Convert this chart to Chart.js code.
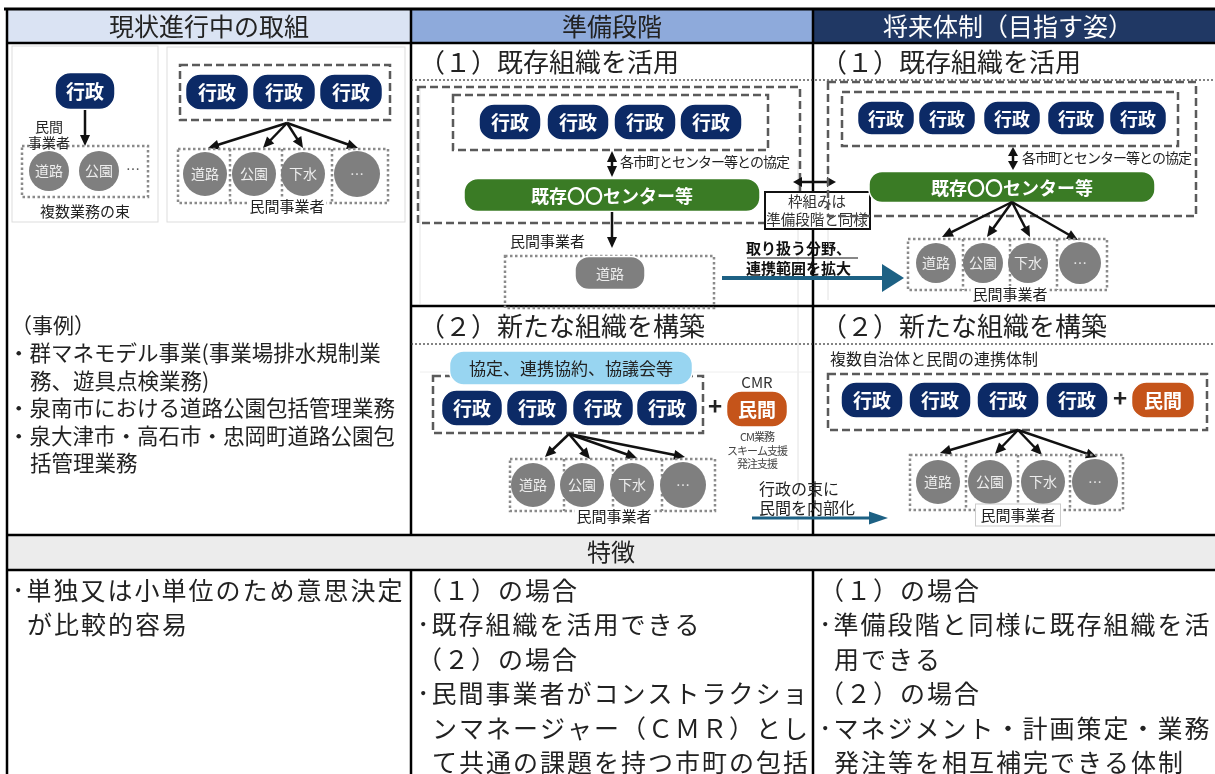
<!DOCTYPE html>
<html>
<head>
<meta charset="utf-8">
<script src="https://cdn.jsdelivr.net/npm/chart.js@4.4.1/dist/chart.umd.min.js"></script>
<style>
  html, body { margin: 0; padding: 0; background: #fff; }
  #wrap { width: 1215px; height: 774px; }
</style>
</head>
<body>
<div id="wrap"><canvas id="diagram"></canvas></div>
<script>
// ---- texts of the table / diagram ----
var headers = ['現状進行中の取組', '準備段階', '将来体制（目指す姿）'];
var subTitles = ['（１）既存組織を活用', '（２）新たな組織を構築'];
var govLabel = '行政';
var privLabel = '民間';
var serviceLabels = ['道路', '公園', '下水', '…'];
var bizLabel = '民間事業者';
var bizLabelShort = ['民間', '事業者'];
var bundleLabel = '複数業務の束';
var centerLabel = '既存〇〇センター等';
var agreementLabel = '各市町とセンター等との協定';
var councilLabel = '協定、連携協約、協議会等';
var cmrLabel = 'CMR';
var cmrRoles = ['CM業務', 'スキーム支援', '発注支援'];
var jointLabel = '複数自治体と民間の連携体制';
var frameNote = ['枠組みは', '準備段階と同様'];
var expandNote = ['取り扱う分野、', '連携範囲を拡大'];
var internalNote = ['行政の束に', '民間を内部化'];
var caseTitle = '（事例）';
var caseItems = [
  ['・群マネモデル事業(事業場排水規制業', '務、遊具点検業務)'],
  ['・泉南市における道路公園包括管理業務'],
  ['・泉大津市・高石市・忠岡町道路公園包', '括管理業務']
];
var featureTitle = '特徴';
var featureItems = [
  [['･単独又は小単位のため意思決定', 'が比較的容易']],
  [['（１）の場合'], ['･既存組織を活用できる'], ['（２）の場合'],
   ['･民間事業者がコンストラクショ', 'ンマネージャー（ＣＭＲ）とし', 'て共通の課題を持つ市町の包括']],
  [['（１）の場合'], ['･準備段階と同様に既存組織を活', '用できる'], ['（２）の場合'],
   ['･マネジメント・計画策定・業務', '発注等を相互補完できる体制']]
];

var FONT = '"Noto Sans CJK JP", "Noto Sans", sans-serif';
var NAVY = '#0c2a66', GRAY = '#7f7f7f', GREEN = '#3a7b25', ORANGE = '#c5541a';
var TEAL = '#1d6184', SKY = '#98d5f1';

function drawDiagram(chart) {
  var ctx = chart.ctx, xs = chart.scales.x, ys = chart.scales.y;
  function X(v) { return xs.getPixelForValue(v); }
  function Y(v) { return ys.getPixelForValue(v); }

  function fillRect(x0, y0, x1, y1, c) {
    ctx.fillStyle = c;
    ctx.fillRect(X(x0), Y(y0), X(x1) - X(x0), Y(y1) - Y(y0));
  }
  function line(x0, y0, x1, y1, w, c, dash) {
    ctx.save();
    ctx.strokeStyle = c; ctx.lineWidth = w;
    ctx.setLineDash(dash || []);
    ctx.beginPath(); ctx.moveTo(X(x0), Y(y0)); ctx.lineTo(X(x1), Y(y1)); ctx.stroke();
    ctx.restore();
  }
  function frame(x0, y0, x1, y1, w, c, dash, fill) {
    ctx.save();
    if (fill) { ctx.fillStyle = fill; ctx.fillRect(X(x0), Y(y0), X(x1) - X(x0), Y(y1) - Y(y0)); }
    ctx.strokeStyle = c; ctx.lineWidth = w; ctx.setLineDash(dash || []);
    ctx.strokeRect(X(x0), Y(y0), X(x1) - X(x0), Y(y1) - Y(y0));
    ctx.restore();
  }
  function dashed(x0, y0, x1, y1) { frame(x0, y0, x1, y1, 2.5, '#5a5a5a', [8, 4]); }
  function dotted(x0, y0, x1, y1) { frame(x0, y0, x1, y1, 2.5, '#8a8a8a', [2.5, 2.5]); }
  function text(s, x, y, size, c, align, weight, spacing) {
    ctx.save();
    ctx.font = (weight || 'normal') + ' ' + size + 'px ' + FONT;
    ctx.fillStyle = c || '#222';
    ctx.textAlign = align || 'left';
    ctx.textBaseline = 'middle';
    if (spacing !== undefined) ctx.letterSpacing = spacing + 'px';
    ctx.fillText(s, X(x), Y(y));
    ctx.restore();
  }
  function rrect(x0, y0, x1, y1, r) {
    var a = X(x0), b = Y(y0), c = X(x1), d = Y(y1);
    ctx.beginPath();
    ctx.moveTo(a + r, b); ctx.lineTo(c - r, b); ctx.arcTo(c, b, c, b + r, r);
    ctx.lineTo(c, d - r); ctx.arcTo(c, d, c - r, d, r);
    ctx.lineTo(a + r, d); ctx.arcTo(a, d, a, d - r, r);
    ctx.lineTo(a, b + r); ctx.arcTo(a, b, a + r, b, r);
    ctx.closePath();
  }
  function pill(cx, cy, w, h, fill, label, size, tc, weight) {
    ctx.save();
    rrect(cx - w / 2, cy - h / 2, cx + w / 2, cy + h / 2, h * 0.42);
    ctx.fillStyle = fill; ctx.fill();
    ctx.strokeStyle = '#ffffff'; ctx.lineWidth = 1.5; ctx.stroke();
    ctx.restore();
    text(label, cx, cy + 1, size, tc || '#fff', 'center', weight || 'bold');
  }
  function circle(cx, cy, r, label) {
    ctx.save();
    ctx.beginPath(); ctx.arc(X(cx), Y(cy), r, 0, Math.PI * 2);
    ctx.fillStyle = GRAY; ctx.fill();
    ctx.restore();
    text(label, cx, cy, 14, '#eeeeee', 'center');
  }
  function head(x0, y0, x1, y1, len, wid, c) {
    var ang = Math.atan2(Y(y1) - Y(y0), X(x1) - X(x0));
    ctx.save();
    ctx.translate(X(x1), Y(y1)); ctx.rotate(ang);
    ctx.beginPath(); ctx.moveTo(0, 0); ctx.lineTo(-len, -wid / 2); ctx.lineTo(-len, wid / 2); ctx.closePath();
    ctx.fillStyle = c; ctx.fill();
    ctx.restore();
  }
  function arrow(x0, y0, x1, y1, both, w, c, len, wid) {
    w = w || 2.5; c = c || '#111'; len = len || 11; wid = wid || 10;
    var dx = x1 - x0, dy = y1 - y0, d = Math.sqrt(dx * dx + dy * dy);
    var ux = dx / d, uy = dy / d;
    var sx = both ? x0 + ux * (len - 2) : x0, sy = both ? y0 + uy * (len - 2) : y0;
    line(sx, sy, x1 - ux * (len - 2), y1 - uy * (len - 2), w, c);
    head(x0, y0, x1, y1, len, wid, c);
    if (both) head(x1, y1, x0, y0, len, wid, c);
  }
  function serviceRow(x0, x1, y0, y1, seps, centers, r, cy, labelX, labelY, boxed) {
    dotted(x0, y0, x1, y1);
    seps.forEach(function (s) { line(s, y0, s, y1, 2.5, '#8a8a8a', [2.5, 2.5]); });
    centers.forEach(function (c, i) { circle(c, cy, i === 3 ? r + 1 : r, serviceLabels[i]); });
    ctx.save();
    ctx.font = '15px ' + FONT;
    var tw = ctx.measureText(bizLabel).width;
    ctx.restore();
    if (boxed) frame(labelX - tw / 2 - 5, labelY - 11, labelX + tw / 2 + 5, labelY + 11, 1, '#cccccc', [], '#fff');
    else fillRect(labelX - tw / 2 - 2, labelY - 8, labelX + tw / 2 + 2, labelY + 6, '#fff');
    text(bizLabel, labelX, labelY, 15, '#222', 'center');
  }

  // ---- table background ----
  fillRect(7, 9, 411, 43, '#dae3f3');
  fillRect(411, 9, 813, 43, '#8eaadb');
  fillRect(813, 9, 1215, 43, '#203864');
  fillRect(7, 535, 1215, 570, '#ececec');

  // image panel edges (faint)
  frame(12, 46, 158, 222, 1, '#dddddd');
  frame(167, 47, 405, 222, 1, '#dddddd');
  line(420, 88, 420, 304, 1, '#e6e6e6');
  line(798, 160, 798, 530, 1, '#e2e2e2');
  line(828, 160, 828, 300, 1, '#e2e2e2');
  line(420, 372, 812, 372, 1, '#eeeeee');

  // ---- table lines ----
  line(4, 9, 1215, 9, 3, '#000');
  line(7, 43, 1215, 43, 2.5, '#000');
  line(7, 535, 1215, 535, 2.5, '#000');
  line(7, 570, 1215, 570, 2.5, '#000');
  line(411, 306, 1215, 306, 2.5, '#000');
  line(7, 8, 7, 774, 2.5, '#000');
  [411, 813].forEach(function (x) {
    line(x, 8, x, 535, 2.5, '#000');
    line(x, 570, x, 774, 2.5, '#000');
  });
  line(411, 80, 1215, 80, 1.2, '#333', [2, 2]);
  line(411, 344, 1215, 344, 1.2, '#333', [2, 2]);

  // ---- header texts ----
  text(headers[0], 209, 26, 25, '#222', 'center');
  text(headers[1], 612, 26, 25, '#222', 'center');
  text(headers[2], 1008, 26, 25, '#ffffff', 'center');
  text(featureTitle, 611, 552, 24, '#222', 'center');
  text(subTitles[0], 419, 62, 26, '#222');
  text(subTitles[0], 821, 62, 26, '#222');
  text(subTitles[1], 419, 326, 26, '#222');
  text(subTitles[1], 821, 326, 26, '#222');

  // ---- column 1 diagrams ----
  pill(85, 91, 60, 37, NAVY, govLabel, 19);
  arrow(85, 110, 85, 146);
  text(bizLabelShort[0], 49, 127, 14, '#222', 'center');
  fillRect(26, 136, 72, 150, '#fff');
  dotted(22, 146, 148, 197);
  text(bizLabelShort[1], 49, 143, 14, '#222', 'center');
  circle(49, 171, 20, serviceLabels[0]);
  circle(99, 171, 20, serviceLabels[1]);
  text(serviceLabels[3], 133, 169, 14, '#444', 'center');
  text(bundleLabel, 85, 211, 15, '#222', 'center');

  dashed(180, 65, 390, 120);
  [217, 284, 351].forEach(function (c) { pill(c, 92, 63, 36, NAVY, govLabel, 19); });
  [[208, 148], [263, 148], [303, 148], [358, 148]].forEach(function (t) { arrow(287, 123, t[0], t[1]); });
  serviceRow(178, 388, 149, 203, [230, 282, 332], [205, 254, 303, 357], 22, 174, 287, 206, false);

  // ---- column 2, (1) ----
  dashed(418, 87, 800, 223);
  dashed(453, 95, 768, 150);
  [510, 578, 645, 711].forEach(function (c) { pill(c, 122, 62, 36, NAVY, govLabel, 19); });
  arrow(612, 151, 612, 177, true);
  text(agreementLabel, 620, 162, 14, '#222', 'left', 'normal', -1);
  pill(612, 195, 296, 33, GREEN, centerLabel, 18);
  arrow(612, 212, 612, 248);
  dotted(505, 256, 714, 308);
  fillRect(508, 232, 596, 250, '#fff');
  text(bizLabel, 510, 241, 15, '#222');
  pill(610, 273, 70, 33, GRAY, serviceLabels[0], 14, '#eeeeee', 'normal');

  // ---- middle notes ----
  arrow(793, 182, 836, 182, true, 2.5, '#111', 9, 10);
  frame(765, 192, 870, 229, 2, '#111', [], '#fff');
  text(frameNote[0], 817, 201, 14.5, '#333', 'center');
  text(frameNote[1], 817, 219, 14.5, '#333', 'center');
  text(expandNote[0], 746, 248, 15, '#111', 'left', 'bold');
  text(expandNote[1], 746, 268, 15, '#111', 'left', 'bold');
  line(747, 258, 858, 258, 1.2, '#111');
  line(747, 278, 858, 278, 1.2, '#111');
  arrow(722, 278, 904, 278, false, 4, TEAL, 22, 28);

  text(internalNote[0], 759, 489, 16, '#222');
  text(internalNote[1], 759, 508, 16, '#222');
  arrow(752, 518, 888, 518, false, 3, TEAL, 19, 13);

  // ---- column 3, (1) ----
  dashed(828, 82, 1196, 216);
  dashed(842, 92, 1178, 146);
  [886, 947, 1012, 1076, 1138].forEach(function (c) { pill(c, 118, 57, 34, NAVY, govLabel, 18); });
  arrow(1013, 147, 1013, 170, true, 2.5, '#111', 9, 10);
  text(agreementLabel, 1022, 158, 14, '#222', 'left', 'normal', -1);
  pill(1012, 187, 286, 31, GREEN, centerLabel, 18);
  [[942, 237], [987, 237], [1030, 237], [1078, 240]].forEach(function (t) { arrow(1012, 202, t[0], t[1]); });
  serviceRow(908, 1107, 239, 290, [963, 1010, 1057], [936, 983, 1028, 1080], 20, 263, 1010, 294, false);

  // ---- column 2, (2) ----
  dashed(433, 376, 703, 433);
  pill(571, 368, 243, 34, SKY, councilLabel, 17, '#222', 'normal');
  [472, 537, 603, 667].forEach(function (c) { pill(c, 408, 61, 36, NAVY, govLabel, 19); });
  text('+', 715, 406, 24, '#222', 'center', 'bold');
  text(cmrLabel, 757, 382, 15, '#333', 'center');
  pill(757, 409, 61, 36, ORANGE, privLabel, 19);
  cmrRoles.forEach(function (s, i) { text(s, 757, 437 + i * 13.5, 11, '#444', 'center', 'normal', -1); });
  [[545, 457], [590, 459], [637, 458], [685, 457]].forEach(function (t) { arrow(569, 434, t[0], t[1]); });
  serviceRow(510, 715, 459, 511, [564, 613, 662], [533, 582, 632, 683], 22, 485, 614, 516, false);

  // ---- column 3, (2) ----
  text(jointLabel, 830, 359, 16, '#222');
  dashed(828, 374, 1207, 430);
  [872, 940, 1008, 1077].forEach(function (c) { pill(c, 400, 62, 36, NAVY, govLabel, 19); });
  text('+', 1120, 398, 24, '#222', 'center', 'bold');
  pill(1163, 400, 63, 36, ORANGE, privLabel, 19);
  [[940, 453], [995, 454], [1042, 455], [1097, 457]].forEach(function (t) { arrow(1018, 430, t[0], t[1]); });
  serviceRow(910, 1123, 455, 510, [966, 1018, 1070], [938, 990, 1043, 1095], 22, 482, 1018, 515, true);

  // ---- column 1 case list ----
  text(caseTitle, 11, 325, 21, '#222');
  var cy = 353;
  caseItems.forEach(function (item) {
    item.forEach(function (s, j) {
      text(s, j === 0 ? 8 : 30, cy, 21.5, '#222');
      cy += 27.5;
    });
  });

  // ---- features row ----
  var colX = [12, 417, 819];
  featureItems.forEach(function (items, ci) {
    var fy = 590;
    items.forEach(function (item) {
      item.forEach(function (s, j) {
        text(s, j === 0 ? colX[ci] : colX[ci] + 15, fy, 25, '#222', 'left', 'normal', 2);
        fy += 34.5;
      });
    });
  });
}

new Chart(document.getElementById('diagram'), {
  type: 'scatter',
  data: { datasets: [] },
  options: {
    responsive: true,
    maintainAspectRatio: false,
    animation: false,
    layout: { padding: 0 },
    plugins: { legend: { display: false }, tooltip: { enabled: false } },
    scales: {
      x: { type: 'linear', min: 0, max: 1215, display: false },
      y: { type: 'linear', min: 0, max: 774, reverse: true, display: false }
    }
  },
  plugins: [{ id: 'diagram', afterDraw: drawDiagram }]
});
</script>
</body>
</html>
